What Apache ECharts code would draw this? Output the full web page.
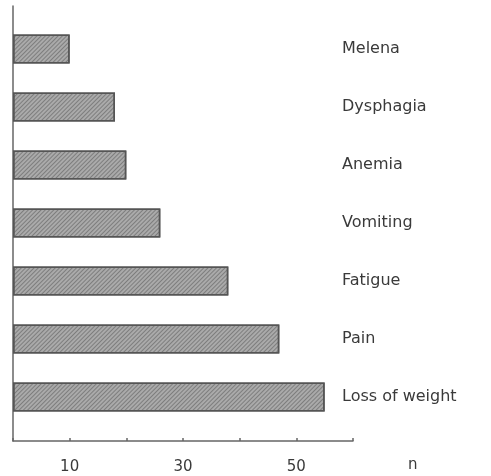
<!DOCTYPE html>
<html>
<head>
<meta charset="utf-8">
<script src="https://cdn.jsdelivr.net/npm/echarts@6/dist/echarts.min.js"></script>
<style>
    html, body { margin: 0; padding: 0; background: #fff; }
    #chart { width: 491px; height: 476px; }
</style>
</head>
<body>
<div id="chart"></div>
<script>
// symptoms, top to bottom
var symptoms = ['Melena', 'Dysphagia', 'Anemia', 'Vomiting', 'Fatigue', 'Pain', 'Loss of weight'];
// number of patients (n)
var counts = [10, 18, 20, 26, 38, 47, 55];
// x axis
var xMin = 0;
var xMax = 60;
var xStep = 10;
var xLabels = [10, 30, 50];

var chart = echarts.init(document.getElementById('chart'));

var lineColor = '#666';
var textColor = '#3a3a3a';
var font = 'DejaVu Sans';

chart.setOption({
    backgroundColor: '#fff',
    animation: false,
    grid: [
        // bars
        {left: 13, right: 138, top: 20, bottom: 50},
        // axes frame
        {left: 13, right: 138, top: 6, bottom: 35}
    ],
    xAxis: [
        {
            gridIndex: 0,
            type: 'value',
            min: xMin,
            max: xMax,
            show: false
        },
        {
            gridIndex: 1,
            type: 'value',
            min: xMin,
            max: xMax,
            interval: xStep,
            name: 'n',
            nameLocation: 'end',
            nameGap: 55,
            nameTextStyle: {
                color: textColor,
                fontFamily: font,
                fontSize: 15,
                verticalAlign: 'top',
                padding: [17, 0, 0, 0]
            },
            axisLine: {lineStyle: {color: lineColor, width: 1.5}},
            axisTick: {inside: true, length: 3, lineStyle: {color: lineColor, width: 1.5}},
            splitLine: {show: false},
            axisLabel: {
                color: textColor,
                fontFamily: font,
                fontSize: 15,
                margin: 19,
                formatter: function (v) {
                    return xLabels.indexOf(v) >= 0 ? String(v) : '';
                }
            }
        }
    ],
    yAxis: [
        {
            gridIndex: 0,
            type: 'category',
            data: symptoms,
            inverse: true,
            position: 'right',
            offset: -19,
            axisLine: {show: false},
            axisTick: {show: false},
            axisLabel: {
                color: textColor,
                fontFamily: font,
                fontSize: 16,
                align: 'left',
                margin: 8
            }
        },
        {
            gridIndex: 1,
            type: 'value',
            min: 0,
            max: 1,
            axisLine: {show: true, lineStyle: {color: lineColor, width: 1.5}},
            axisTick: {show: false},
            axisLabel: {show: false},
            splitLine: {show: false}
        }
    ],
    series: [
        {
            type: 'bar',
            xAxisIndex: 0,
            yAxisIndex: 0,
            data: counts,
            barWidth: 29,
            itemStyle: {
                color: '#aaa',
                borderColor: '#555',
                borderWidth: 1.5,
                decal: {
                    symbol: 'rect',
                    color: 'rgba(70, 70, 70, 0.45)',
                    dashArrayX: [1, 0],
                    dashArrayY: [1, 2],
                    rotation: -Math.PI / 4
                }
            }
        }
    ]
});
</script>
</body>
</html>
